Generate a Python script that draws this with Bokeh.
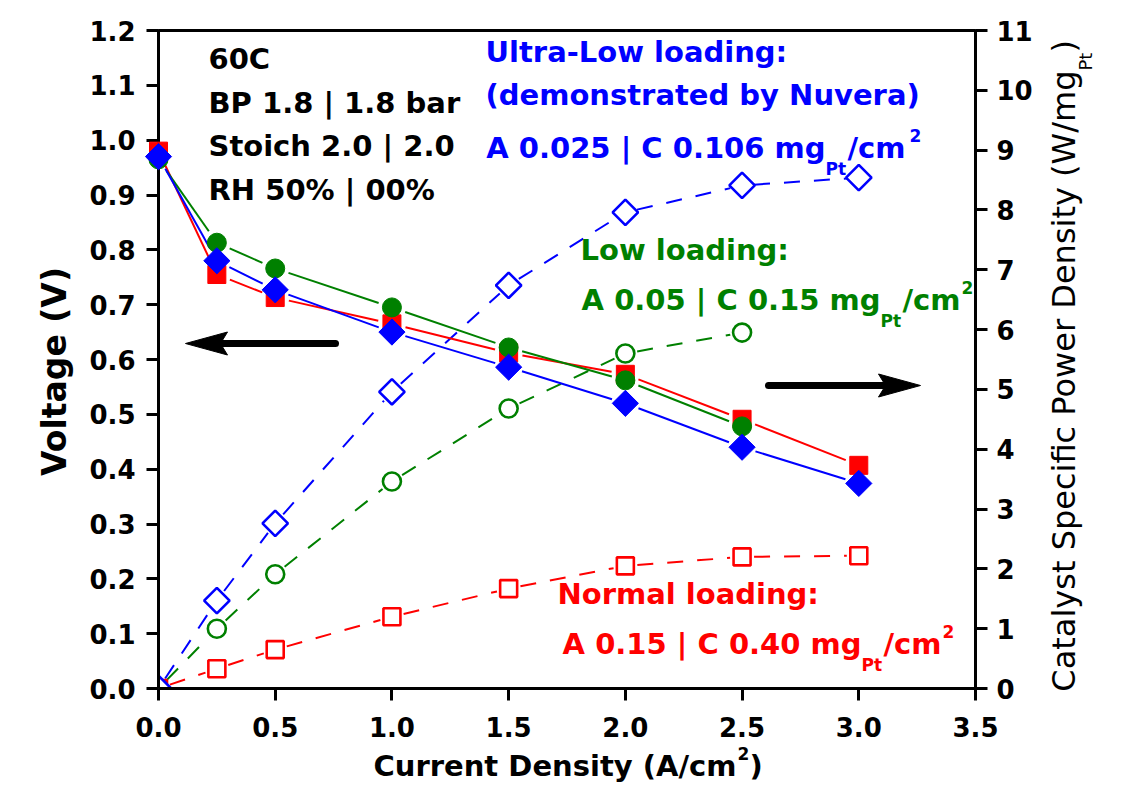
import math
import numpy as np
from bokeh.plotting import figure
from bokeh.models import (Range1d, LinearAxis, FixedTicker, PrintfTickFormatter,
                          ColumnDataSource)
from bokeh.core.properties import value
from bokeh.embed import file_html
from bokeh.resources import INLINE

# ---- data -------------------------------------------------------------
current = [0.0, 0.25, 0.5, 1.0, 1.5, 2.0, 2.5, 3.0]          # A/cm2
current_low = [0.0, 0.25, 0.5, 1.0, 1.5, 2.0, 2.5]

# cell voltage (V), left axis
v_normal = [0.980, 0.755, 0.713, 0.665, 0.612, 0.573, 0.491, 0.407]
v_low = [0.965, 0.813, 0.766, 0.695, 0.622, 0.562, 0.478]
v_ultra = [0.970, 0.780, 0.727, 0.650, 0.586, 0.520, 0.440, 0.374]

# catalyst specific power density (W/mgPt), right axis
p_normal = [0.0, 0.33, 0.65, 1.20, 1.67, 2.05, 2.20, 2.22]
p_low = [0.0, 1.00, 1.91, 3.46, 4.68, 5.60, 5.95]
p_ultra = [0.0, 1.47, 2.76, 4.96, 6.74, 7.96, 8.41, 8.54]

x_ticks = [0.0, 0.5, 1.0, 1.5, 2.0, 2.5, 3.0, 3.5]
v_ticks = [round(0.1 * i, 1) for i in range(13)]
p_ticks = list(range(12))

RED, GREEN, BLUE = "#FF0000", "#008000", "#0000FF"
FONT = "DejaVu Sans"

# ---- frame geometry ---------------------------------------------------
W, H = 1130, 787
FL, FR, FT, FB = 158, 975, 30, 688
X_MAX, V_MAX, P_MAX = 3.5, 1.2, 11.0
SX = (FR - FL) / X_MAX
SY_V = (FB - FT) / V_MAX
SY_P = (FB - FT) / P_MAX


def X(px):
    return (px - FL) / SX


def Y(py):
    return (FB - py) / SY_V


p = figure(width=W, height=H, output_backend="svg", toolbar_location=None,
           x_range=Range1d(0, X_MAX), y_range=Range1d(0, V_MAX),
           min_border_left=FL, min_border_right=W - FR,
           min_border_top=FT, min_border_bottom=H - FB)
p.extra_y_ranges = {"power": Range1d(0, P_MAX)}
p.xgrid.visible = False
p.ygrid.visible = False
p.background_fill_color = "white"
p.border_fill_color = "white"
p.outline_line_color = "black"
p.outline_line_width = 3

right_axis = LinearAxis(y_range_name="power")
p.add_layout(right_axis, "right")


def style_axis(ax, ticks, fmt, standoff):
    ax.ticker = FixedTicker(ticks=ticks)
    ax.formatter = PrintfTickFormatter(format=fmt)
    ax.axis_line_width = 3
    ax.axis_line_color = "black"
    ax.major_tick_line_width = 3
    ax.major_tick_in = 0
    ax.major_tick_out = 12
    ax.minor_tick_line_color = None
    ax.major_label_text_font = FONT
    ax.major_label_text_font_style = "bold"
    ax.major_label_text_font_size = "26px"
    ax.major_label_text_color = "black"
    ax.major_label_standoff = standoff


style_axis(p.xaxis[0], x_ticks, "%.1f", 16)
style_axis(p.yaxis[0], v_ticks, "%.1f", 11)
style_axis(right_axis, p_ticks, "%d", 9)


def gapped(xs, ys, sy, gap):
    """Segments between neighbouring points, trimmed so they stop short of the symbols."""
    d = dict(x0=[], y0=[], x1=[], y1=[])
    for xa, ya, xb, yb in zip(xs, ys, xs[1:], ys[1:]):
        dx, dy = (xb - xa) * SX, (yb - ya) * sy
        length = math.hypot(dx, dy)
        if length <= 2 * gap:
            continue
        t = gap / length
        d["x0"].append(xa + (xb - xa) * t)
        d["y0"].append(ya + (yb - ya) * t)
        d["x1"].append(xb - (xb - xa) * t)
        d["y1"].append(yb - (yb - ya) * t)
    return ColumnDataSource(d)


# ---- power density (open symbols, dashed) -----------------------------
power_series = [
    (current, p_normal, RED, "square", 17, 0.0),
    (current_low, p_low, GREEN, "circle", 18, 0.0),
    (current, p_ultra, BLUE, "square", 18, np.pi / 4),
]
for xs, ys, col, mk, sz, ang in power_series:
    p.segment("x0", "y0", "x1", "y1", source=gapped(xs, ys, SY_P, 12),
              line_color=col, line_width=2, line_dash="16 14",
              y_range_name="power")
for xs, ys, col, mk, sz, ang in power_series:
    p.scatter(xs, ys, marker=mk, size=sz, angle=ang, fill_color="white",
              line_color=col, line_width=2.6, y_range_name="power")

# ---- voltage (filled symbols, solid) ----------------------------------
volt_series = [
    (current, v_normal, RED, "square", 18, 0.0),
    (current_low, v_low, GREEN, "circle", 19, 0.0),
    (current, v_ultra, BLUE, "square", 18.5, np.pi / 4),
]
for xs, ys, col, mk, sz, ang in volt_series:
    p.segment("x0", "y0", "x1", "y1", source=gapped(xs, ys, SY_V, 14),
              line_color=col, line_width=2)
for xs, ys, col, mk, sz, ang in volt_series:
    p.scatter(xs, ys, marker=mk, size=sz, angle=ang, fill_color=col,
              line_color=col, line_width=1, level="annotation")


# ---- direction arrows -------------------------------------------------
def arrow(x_tail, x_tip, y, direction):
    head_len, half_w, notch = 42, 11.5, 7
    back = x_tip + direction * head_len
    p.segment(x0=[X(x_tail)], y0=[Y(y)], x1=[X(back - direction * notch)], y1=[Y(y)],
              line_color="black", line_width=7, line_cap="round")
    p.patch([X(x_tip), X(back), X(back - direction * notch), X(back)],
            [Y(y), Y(y - half_w), Y(y), Y(y + half_w)],
            fill_color="black", line_color="black", line_width=1)


arrow(335, 185, 343, +1)
arrow(768, 920, 385, -1)


# ---- text -------------------------------------------------------------
BASE_SHIFT = 0.4   # renderer places the alphabetic baseline this many em too low


def label(text, px, py, size, color="black", bold=True, align="left", angle=0.0):
    if angle:
        px -= BASE_SHIFT * size
    else:
        py -= BASE_SHIFT * size
    p.text(x=[X(px)], y=[Y(py)], text=[text], text_font=value(FONT),
           text_font_size=value(f"{size}px"),
           text_font_style="bold" if bold else "normal",
           text_color=color, text_align=align, text_baseline="alphabetic",
           angle=angle, level="annotation")


TS = 29      # annotation size
SUB = 17     # sub/superscript size

for i, line in enumerate(["60C", "BP 1.8 | 1.8 bar", "Stoich 2.0 | 2.0", "RH 50% | 00%"]):
    label(line, 208, 70 + 43.7 * i, TS)

label("Ultra-Low loading:", 485, 63, TS, BLUE)
label("(demonstrated by Nuvera)", 485, 106, TS, BLUE)
label("A 0.025 | C 0.106 mg", 825, 159, TS, BLUE, align="right")
label("Pt", 825, 175, SUB, BLUE)
label("/cm", 847, 159, TS, BLUE)
label("2", 909, 142, SUB, BLUE)

label("Low loading:", 580, 261, TS, GREEN)
label("A 0.05 | C 0.15 mg", 880, 311, TS, GREEN, align="right")
label("Pt", 880, 327, SUB, GREEN)
label("/cm", 902, 311, TS, GREEN)
label("2", 961, 294, SUB, GREEN)

label("Normal loading:", 557, 605, TS, RED)
label("A 0.15 | C 0.40 mg", 861, 655, TS, RED, align="right")
label("Pt", 861, 671, SUB, RED)
label("/cm", 883, 655, TS, RED)
label("2", 942, 638, SUB, RED)

# axis titles
label("Current Density (A/cm", 373, 777, TS)
label("2", 737, 760, SUB)
label(")", 749, 777, TS)

label("Voltage (V)", 67, 371, 33, align="center", angle=np.pi / 2)

label("Catalyst Specific Power Density (W/mg", 1076, 70, 32, bold=False,
      align="right", angle=np.pi / 2)
label("Pt", 1092, 70, 18, bold=False, angle=np.pi / 2)
label(")", 1076, 52, 32, bold=False, angle=np.pi / 2)

open("out.html", "w").write(file_html(p, INLINE))
